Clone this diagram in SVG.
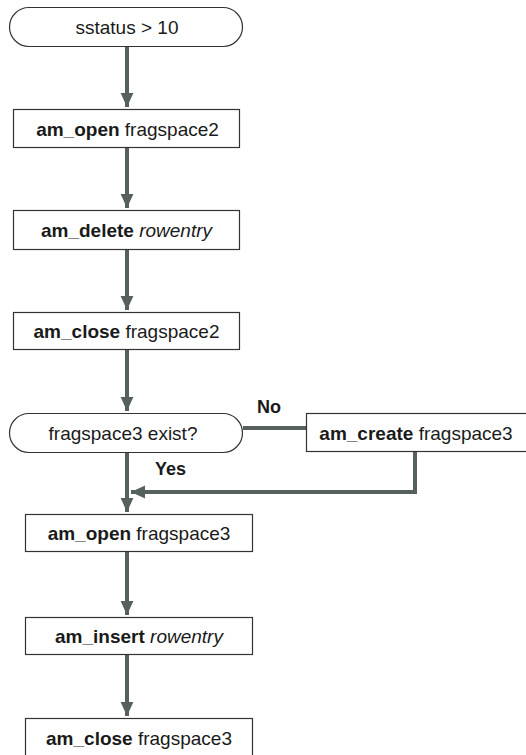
<svg xmlns="http://www.w3.org/2000/svg" width="526" height="755" viewBox="0 0 526 755">
<style>
.box{fill:#fff;stroke:#333;stroke-width:1.2}
.t{font-family:"Liberation Sans",Arial,sans-serif;font-size:19px;fill:#1a1a1a;text-anchor:middle}
.b{font-weight:bold}
.i{font-style:italic}
.c{fill:none;stroke:#56605e;stroke-width:4}
.lbl{font-family:"Liberation Sans",Arial,sans-serif;font-size:18px;font-weight:bold;fill:#1a1a1a}
</style>
<defs>
<marker id="ah" markerWidth="4" markerHeight="4" refX="3.5" refY="2" orient="auto" markerUnits="strokeWidth">
<path d="M0,0.4 L3.5,2 L0,3.6 Z" fill="#56605e"/>
</marker>
</defs>
<g id="connectors">
<path class="c" d="M127,47 V107" marker-end="url(#ah)"/>
<path class="c" d="M127,148 V208" marker-end="url(#ah)"/>
<path class="c" d="M127,250 V310" marker-end="url(#ah)"/>
<path class="c" d="M127,350 V411" marker-end="url(#ah)"/>
<path class="c" d="M127,453 V512" marker-end="url(#ah)"/>
<path class="c" d="M127,552 V615" marker-end="url(#ah)"/>
<path class="c" d="M127,655 V716" marker-end="url(#ah)"/>
<path class="c" d="M243,428 H306"/>
<path class="c" d="M415,452 V492 H131" marker-end="url(#ah)"/>
<text class="lbl" x="257" y="413">No</text>
<text class="lbl" x="155" y="475">Yes</text>
</g>
<g id="start">
<rect class="box" x="9.5" y="7.5" width="233" height="39" rx="19.5"/>
<text class="t" x="127" y="33.5">sstatus &gt; 10</text>
</g>
<g id="open2">
<rect class="box" x="13.5" y="109.5" width="226" height="38"/>
<text class="t" x="127.5" y="135.5"><tspan class="b">am_open</tspan> fragspace2</text>
</g>
<g id="delete">
<rect class="box" x="13.5" y="210.5" width="226" height="39"/>
<text class="t" x="126.5" y="236.5"><tspan class="b">am_delete</tspan> <tspan class="i">rowentry</tspan></text>
</g>
<g id="close2">
<rect class="box" x="13.5" y="312.5" width="226" height="37"/>
<text class="t" x="126.5" y="337.5"><tspan class="b">am_close</tspan> fragspace2</text>
</g>
<g id="decision">
<rect class="box" x="9.5" y="413.5" width="233" height="39" rx="19.5"/>
<text class="t" x="123" y="439.5">fragspace3 exist?</text>
</g>
<g id="create">
<rect class="box" x="306.5" y="413.5" width="230" height="38"/>
<text class="t" x="416" y="439.5"><tspan class="b">am_create</tspan> fragspace3</text>
</g>
<g id="open3">
<rect class="box" x="25.5" y="514.5" width="227" height="37"/>
<text class="t" x="139" y="539.5"><tspan class="b">am_open</tspan> fragspace3</text>
</g>
<g id="insert">
<rect class="box" x="25.5" y="617.5" width="227" height="37"/>
<text class="t" x="139" y="642.5"><tspan class="b">am_insert</tspan> <tspan class="i">rowentry</tspan></text>
</g>
<g id="close3">
<rect class="box" x="25.5" y="718.5" width="227" height="40"/>
<text class="t" x="139" y="744.5"><tspan class="b">am_close</tspan> fragspace3</text>
</g>
</svg>
